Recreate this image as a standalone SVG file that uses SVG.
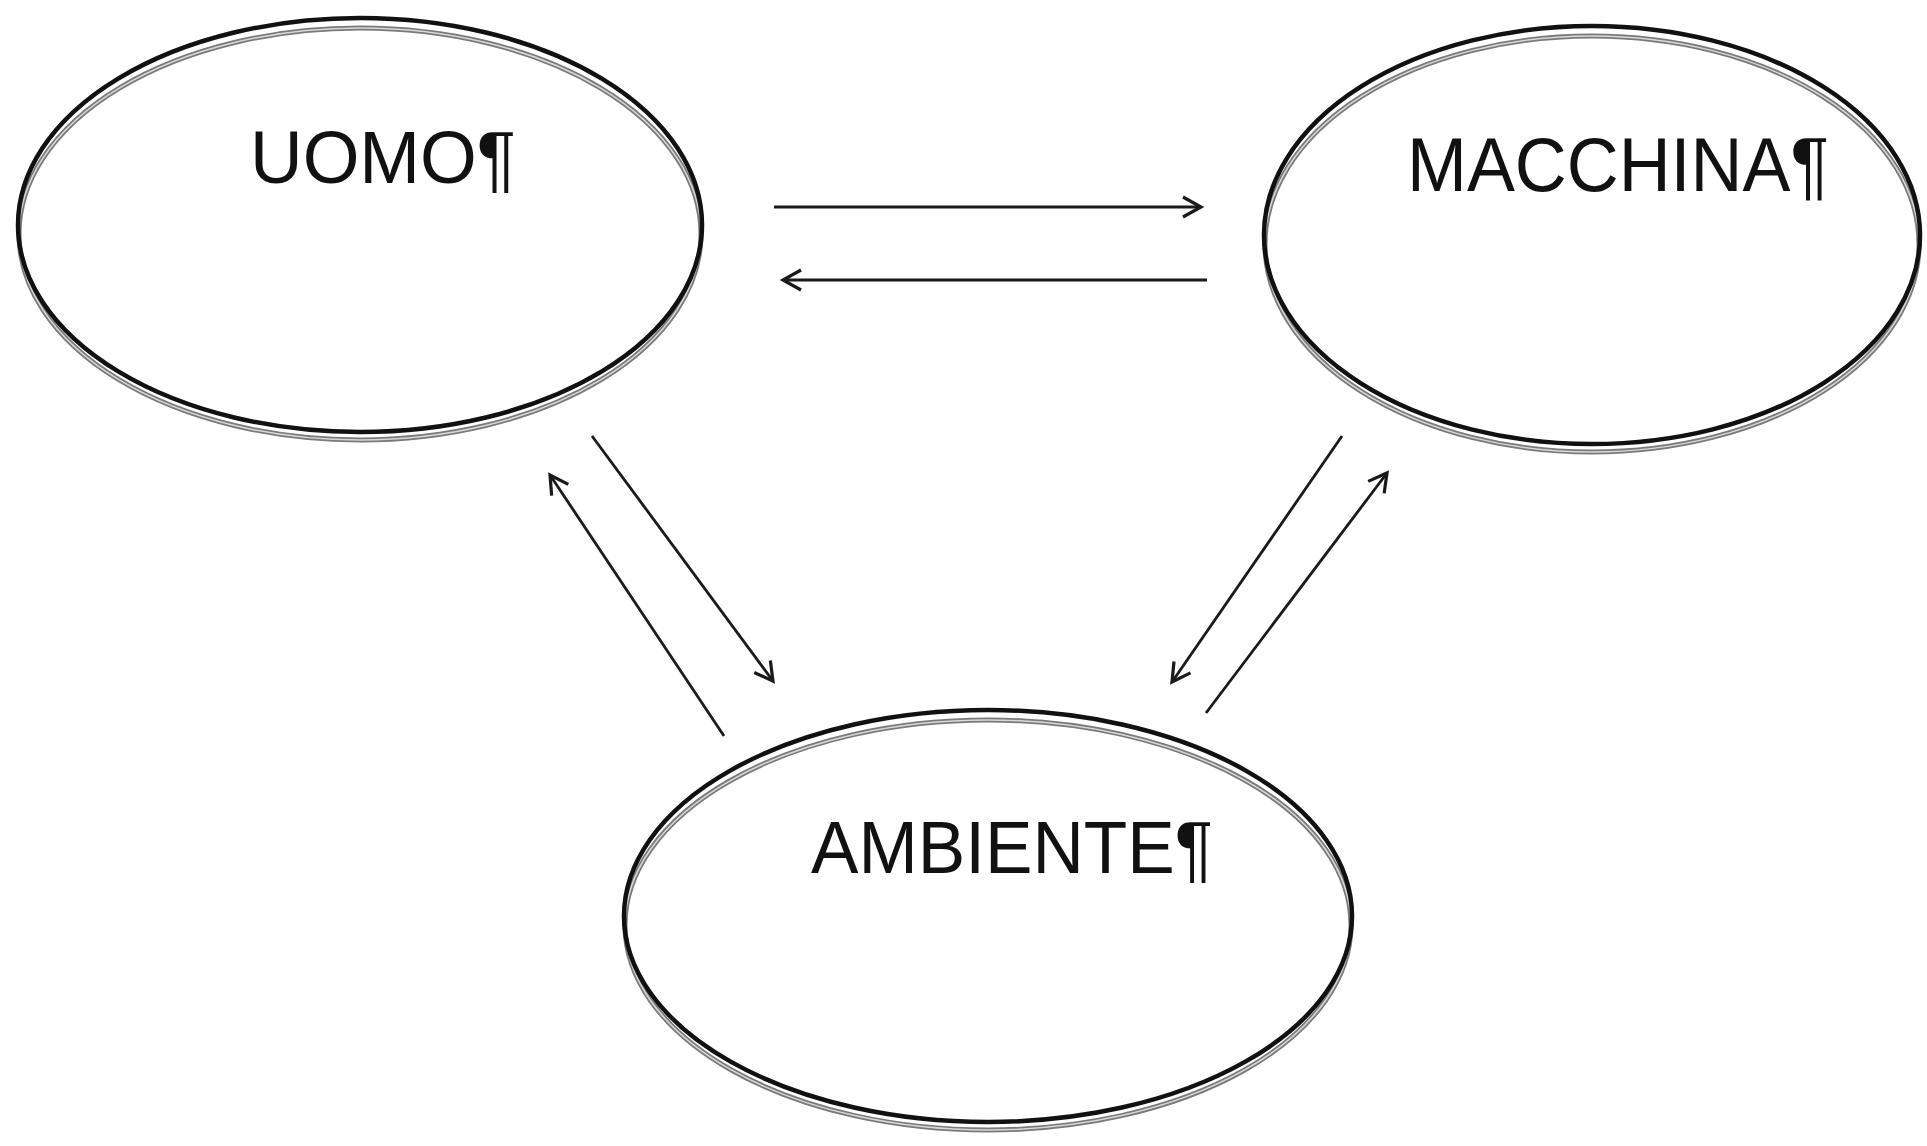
<svg xmlns="http://www.w3.org/2000/svg" width="1927" height="1146" viewBox="0 0 1927 1146">
<style>
.shadow{fill:none;stroke:#7a7a7a;stroke-width:5}
.shadow-in{fill:none;stroke:#d8d8d8;stroke-width:1.5}
.outline{fill:none;stroke:#111;stroke-width:4.5}
.label{font-family:"Liberation Sans",Arial,sans-serif;fill:#111;}
.conn{stroke:#1a1a1a;stroke-width:2.8;fill:none;marker-end:url(#arr)}
</style>
<defs>
<marker id="arr" markerUnits="userSpaceOnUse" markerWidth="24" markerHeight="24" viewBox="-20 -12 24 24" refX="0" refY="0" orient="auto">
<path d="M-18,-10 L0,0 L-18,10" fill="none" stroke="#1a1a1a" stroke-width="3.2" stroke-linejoin="miter"/>
</marker>
</defs>
<rect width="1927" height="1146" fill="#fff"/>
<g id="uomo">
<ellipse class="shadow" cx="360" cy="234" rx="341" ry="206"/>
<ellipse class="shadow-in" cx="360" cy="234" rx="341" ry="206"/>
<ellipse class="outline" cx="360" cy="225" rx="342" ry="207"/>
<text class="label" x="250" y="183" font-size="75" textLength="266" lengthAdjust="spacingAndGlyphs">UOMO¶</text>
</g>
<g id="macchina">
<ellipse class="shadow" cx="1592" cy="244" rx="327" ry="208"/>
<ellipse class="shadow-in" cx="1592" cy="244" rx="327" ry="208"/>
<ellipse class="outline" cx="1592" cy="235" rx="328" ry="209"/>
<text class="label" x="1407" y="191" font-size="76" textLength="422" lengthAdjust="spacingAndGlyphs">MACCHINA¶</text>
</g>
<g id="ambiente">
<ellipse class="shadow" cx="988" cy="925" rx="363" ry="205"/>
<ellipse class="shadow-in" cx="988" cy="925" rx="363" ry="205"/>
<ellipse class="outline" cx="988" cy="916" rx="364" ry="206"/>
<text class="label" x="811" y="873" font-size="74" textLength="402" lengthAdjust="spacingAndGlyphs">AMBIENTE¶</text>
</g>
<g id="connectors">
<line class="conn" x1="774" y1="207" x2="1201" y2="207"/>
<line class="conn" x1="1207" y1="280" x2="783" y2="280"/>
<line class="conn" x1="592" y1="436" x2="773" y2="681"/>
<line class="conn" x1="724" y1="736" x2="550" y2="475"/>
<line class="conn" x1="1342" y1="436" x2="1172" y2="682"/>
<line class="conn" x1="1206" y1="713" x2="1387" y2="473"/>
</g>
</svg>
